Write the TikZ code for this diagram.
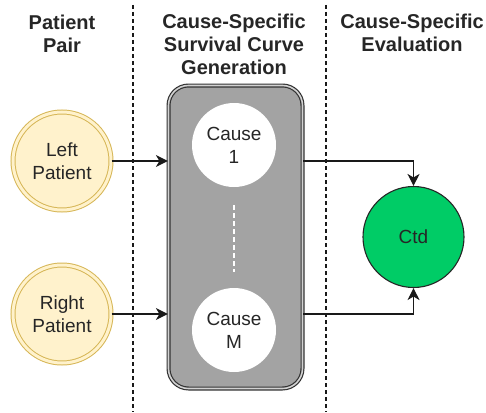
\documentclass[tikz,border=0pt]{standalone}
\usepackage{fontspec}
\setmainfont{Liberation Sans}
\usetikzlibrary{arrows.meta,calc}
\definecolor{pfill}{HTML}{FFF2CC}
\definecolor{pdraw}{HTML}{D6B656}
\definecolor{boxfill}{HTML}{A3A3A3}
\definecolor{ctdfill}{HTML}{00CC66}
\begin{document}
\begin{tikzpicture}[x=1pt,y=-1pt,
  hdr/.style={font=\bfseries\fontsize{20}{23}\selectfont, align=center, text=black!85},
  body/.style={font=\fontsize{19}{23}\selectfont, align=center, text=black!85},
  patient/.style={circle, body, draw=pdraw, fill=pfill, double=pfill, double distance=3pt, line width=1pt, minimum size=98pt, inner sep=0pt},
  cause/.style={circle, body, fill=white, minimum size=84pt, inner sep=0pt},
  divider/.style={dashed, dash pattern=on 4pt off 3pt, line width=1.2pt, black!90},
  arr/.style={line width=1.3pt, black!90, -{Stealth[length=12pt,width=12pt,inset=3.5pt]}}
]
\useasboundingbox (0,0) rectangle (486,412);
% dividers
\coordinate (d1t) at (133,5);
\coordinate (d1b) at (133,412);
\coordinate (d2t) at (326,5);
\coordinate (d2b) at (326,412);
\draw[divider] (d1t) -- (d1b);
\draw[divider] (d2t) -- (d2b);
% headers
\node[hdr] (h1) at (62,34) {Patient\\Pair};
\node[hdr] (h2) at (234,44) {Cause-Specific\\Survival Curve\\Generation};
\node[hdr] (h3) at (412,33) {Cause-Specific\\Evaluation};
% container
\node[draw=black!80, double=gray!35, double distance=1.6pt, line width=1.2pt, fill=boxfill, rounded corners=20pt, minimum width=134pt, minimum height=303pt] (box) at (235.5,237) {};
\node[cause] (c1) at (234,145) {Cause\\1};
\node[cause] (cm) at (234,330) {Cause\\M};
\draw[white, dashed, dash pattern=on 5pt off 3pt, line width=1.3pt] ($(c1.south)+(0,18)$) -- ($(cm.north)+(0,-16)$);
% patients
\node[patient] (lp) at (62,161) {Left\\Patient};
\node[patient] (rp) at (62,314) {Right\\Patient};
% ctd
\node[circle, body, draw=black!85, fill=ctdfill, line width=1.1pt, minimum size=101pt, inner sep=0pt] (ctd) at (413.5,237) {Ctd};
% arrows
\draw[arr] (lp.east) -- (lp.east -| box.west);
\draw[arr] (rp.east) -- (rp.east -| box.west);
\draw[arr] (lp.east -| box.east) -| (ctd.north);
\draw[arr] (rp.east -| box.east) -| (ctd.south);
\end{tikzpicture}
\end{document}
